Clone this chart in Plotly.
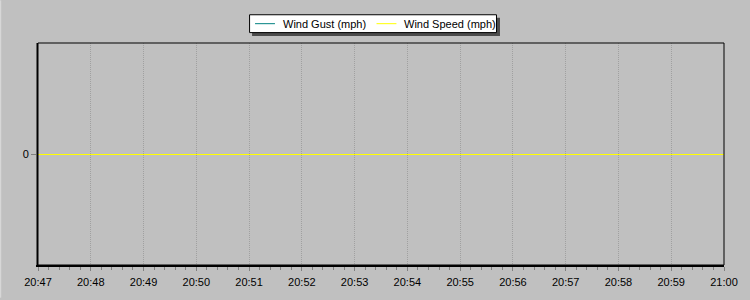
import plotly.graph_objects as go

times = ["2024-01-01 20:%02d:00" % m for m in range(47, 60)] + ["2024-01-01 21:00:00"]
wind_gust = [0, 0, 0, 0, 0, 0, 0, 0, 0, 0, 0, 0, 0, 0]
wind_speed = [0, 0, 0, 0, 0, 0, 0, 0, 0, 0, 0, 0, 0, 0]
series_names = ["Wind Gust (mph)", "Wind Speed (mph)"]
series_colors = ["#008080", "#ffff00"]
y_range = [-1.0, 112.5 / 111.5]

W, H = 750, 300
L, R, T, B = 38, 23, 43, 33
pw, ph = W - L - R, H - T - B

def px(x):
    return (x - L) / pw

def py(y):
    return (H - B - y) / ph

FONT = "Liberation Sans, Arial, sans-serif"

fig = go.Figure()
for vals, name, col in zip([wind_gust, wind_speed], series_names, series_colors):
    fig.add_trace(go.Scatter(x=times, y=vals, mode="lines", name=name,
                             line=dict(color=col, width=1), showlegend=False))

shapes = [
    dict(type="rect", xref="paper", yref="paper", x0=0, x1=1, y0=0, y1=1,
         line=dict(color="#000000", width=1), layer="above"),
    dict(type="line", xref="paper", yref="paper", x0=px(36.5), x1=px(36.5), y0=0, y1=1,
         line=dict(color="#606060", width=1), layer="above"),
    dict(type="line", xref="paper", yref="paper", x0=px(0.5), x1=px(0.5), y0=py(0), y1=py(300),
         line=dict(color="#dcdcdc", width=1), layer="above"),
    dict(type="rect", xref="paper", yref="paper", x0=px(253), x1=px(502), y0=py(17.5), y1=py(36),
         fillcolor="rgba(55,55,55,0.85)", line=dict(width=0), layer="above"),
    dict(type="rect", xref="paper", yref="paper", x0=px(250.5), x1=px(498.5), y0=py(14.5), y1=py(32.5),
         fillcolor="#ffffff", line=dict(color="#000000", width=1), layer="above"),
]
annotations = []
sample_x = [256, 378]
text_x = [282, 404]
for sx, tx, name, col in zip(sample_x, text_x, series_names, series_colors):
    shapes.append(dict(type="line", xref="paper", yref="paper", x0=px(sx), x1=px(sx + 20),
                       y0=py(23.5), y1=py(23.5), line=dict(color=col, width=1), layer="above"))
    annotations.append(dict(xref="paper", yref="paper", x=px(tx), y=py(23.5), xanchor="left",
                            yanchor="middle", text=name, showarrow=False,
                            font=dict(family=FONT, size=11, color="#000000")))

fig.update_layout(
    width=W, height=H,
    margin=dict(l=L, r=R, t=T, b=B, pad=0),
    paper_bgcolor="#c0c0c0", plot_bgcolor="#c0c0c0",
    font=dict(family=FONT, size=11, color="#000000"),
    showlegend=False,
    xaxis=dict(
        type="date", range=[times[0], times[-1]],
        tickformat="%H:%M", dtick=60000, tick0=times[0],
        showgrid=True, gridcolor="#a0a0a0", griddash="1px,1px", gridwidth=1,
        showline=True, linecolor="#000000", linewidth=2,
        ticks="outside", ticklen=4, tickcolor="#808080", tickwidth=1,
        minor=dict(ticks="outside", ticklen=3, tickcolor="#808080", dtick=12000, showgrid=False),
        zeroline=False, fixedrange=True, ticklabelstandoff=2,
    ),
    yaxis=dict(
        range=y_range, tickvals=[0], ticktext=["0"],
        showgrid=False, zeroline=False,
        showline=True, linecolor="#000000", linewidth=2,
        ticks="outside", ticklen=5, tickcolor="#808080", tickwidth=1,
        fixedrange=True, ticklabelstandoff=0,
    ),
    shapes=shapes,
    annotations=annotations,
)

fig.write_html("out.html", config={"displayModeBar": False})
